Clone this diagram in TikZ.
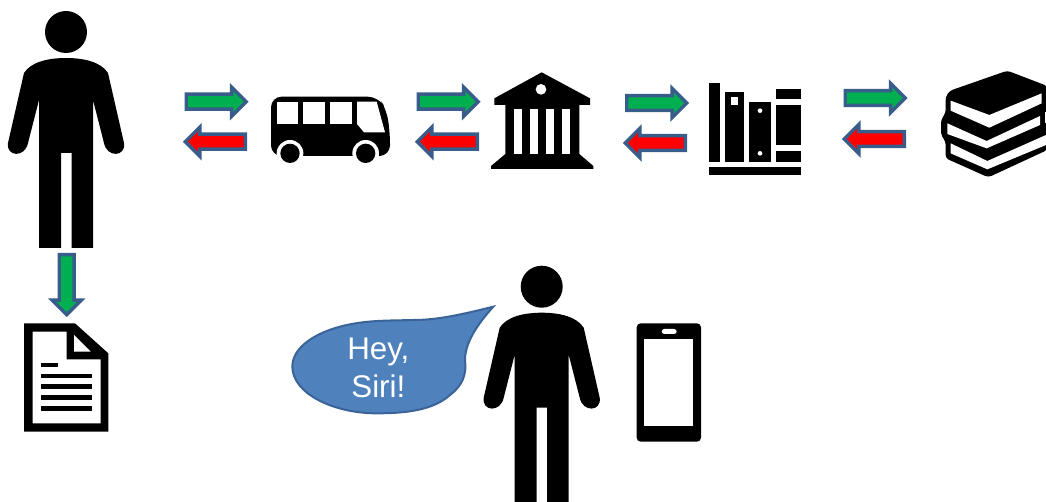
\documentclass[tikz,border=0pt]{standalone}
\usepackage{fontspec}
\setmainfont{Liberation Sans}
\usetikzlibrary{shapes.arrows}
\definecolor{arrline}{HTML}{385D8A}
\definecolor{arrgreen}{HTML}{00B050}
\definecolor{arrred}{HTML}{FF0000}
\definecolor{bubfill}{HTML}{4F81BD}
\definecolor{bubline}{HTML}{3A6397}

\begin{document}
\begin{tikzpicture}[
  x=0.75pt, y=-0.75pt,
  flow/.style={draw=arrline, line width=2.6pt, single arrow, single arrow head extend=5.4pt, minimum height=45pt, minimum width=19.5pt, inner sep=4.3pt, text height=0pt, text depth=0pt, outer sep=0pt},
  go/.style={flow, fill=arrgreen},
  back/.style={flow, fill=arrred, shape border rotate=180},
  zoomed/.style={x=0.25pt, y=-0.25pt},
  person/.pic={
    \fill (0,0) circle (21);
    \fill (0,26) .. controls (18,26) and (35,30) .. (42,41) -- (58,111)
      .. controls (60,125) and (41,126) .. (38,111) -- (27,68) -- (27,216) -- (5.5,216) -- (5.5,121) -- (-5,121) -- (-5,216) -- (-27,216) -- (-27,68) -- (-38,111)
      .. controls (-41,126) and (-60,125) .. (-58,111) -- (-42,41) .. controls (-35,30) and (-18,26) .. (0,26) -- cycle;
  }]
\clip (0,0) rectangle (1046,502);
\pic (walker) at (66,32) {person};
\pic (speaker) at (541.7,286.7) {person};

\node[go] (gobus) at (212.5,101.7) {};
\node[back] (backbus) at (219,141.7) {};
\node[go] (golib) at (444.5,101.7) {};
\node[back] (backlib) at (451,141.7) {};
\node[go] (goshelf) at (653,103) {};
\node[back] (backshelf) at (659,143) {};
\node[go] (gobook) at (871.5,98) {};
\node[back] (backbook) at (878,139) {};
\node[go, shape border rotate=270] (down) at (66.7,281) {};

\begin{scope}[zoomed]
\fill[rounded corners=8pt] (813,468) -- (813,290) -- (1135,290) -- (1160,330) -- (1170,400) -- (1170,468) -- cycle;
\fill[white] (830,307) rectangle (893,372);
\fill[white] (910,307) rectangle (974,372);
\fill[white] (990,307) rectangle (1056,372);
\fill[white] (1071,305) -- (1130,305) -- (1155,397) -- (1092,397) -- (1071,372) -- cycle;
\foreach \wx in {870,1097} {
  \fill[white] (\wx,460) circle (40);
  \fill (\wx,460) circle (29);
}
\end{scope}

\begin{scope}[shift={(480,60)}, zoomed]
\fill (185,37) -- (330,115) -- (330,135) -- (298,135) -- (298,282) -- (340,318) -- (340,327) -- (33,327) -- (33,318) -- (76,282) -- (76,135) -- (43,135) -- (43,115) -- cycle;
\fill[white] (183,88) circle (16);
\foreach \cx in {103,150,198,247}
  \fill[white] (\cx,147) rectangle (\cx+24,282);
\end{scope}

\begin{scope}[shift={(700,70)}, zoomed]
\fill (27,40) rectangle (60,275);
\fill (75,65) rectangle (131,275);
\fill[white] (92,82) rectangle (115,105);
\fill (148,97) rectangle (212,275);
\fill[white] (180,122) circle (7);
\fill[white] (180,250) circle (7);
\fill (228,57) rectangle (302,88);
\fill (228,105) rectangle (302,225);
\fill (228,242) rectangle (302,275);
\fill (27,292) rectangle (302,315);
\end{scope}

\begin{scope}[shift={(930,60)}, zoomed]
\fill[rounded corners=2.5pt] (232,32) -- (352,78) -- (352,270) -- (175,352) -- (47,295) -- (47,245) -- (33,225) -- (33,180) -- (47,158) -- (47,110) -- (60,92) -- cycle;
\fill[white] (62,122) -- (178,165) -- (335,100) -- (335,130) -- (178,203) -- (62,152) -- cycle;
\fill[white] (52,190) -- (170,243) -- (330,168) -- (330,195) -- (170,265) -- (52,222) -- cycle;
\fill[white] (62,250) -- (172,303) -- (348,225) -- (348,255) -- (172,328) -- (62,280) -- cycle;
\fill[white] (344,155) rectangle (352,190);
\end{scope}

\begin{scope}[shift={(0,250)}, zoomed]
\fill[even odd rule] (72,220) -- (225,220) -- (325,310) -- (325,545) -- (72,545) -- cycle (98,245) -- (200,245) -- (200,328) -- (302,328) -- (302,520) -- (98,520) -- cycle;
\fill[white] (222,255) -- (272,305) -- (222,305) -- cycle;
\fill (122,338) rectangle (175,352);
\foreach \ly in {378,410,443,475}
  \fill (122,\ly-7) rectangle (275,\ly+7);
\end{scope}

\begin{scope}[shift={(280,260)}, zoomed]
\draw[bubline, fill=bubfill, line width=1.5pt] (640,140) .. controls (540,165) and (470,180) .. (400,180) .. controls (330,182) and (270,180) .. (200,195) .. controls (110,215) and (37,260) .. (37,320) .. controls (37,400) and (160,460) .. (290,460) .. controls (380,460) and (460,450) .. (510,405) .. controls (550,375) and (560,340) .. (555,300) .. controls (555,250) and (590,195) .. (640,140) -- cycle;
\fill[rounded corners=3pt] (1070,190) rectangle (1263,545);
\fill[white] (1093,238) rectangle (1240,497);
\fill[white, rounded corners=2pt] (1145,207) rectangle (1190,222);
\node[text=white, align=center, font=\fontsize{23.5}{29}\selectfont] (hey) at (295,324) {Hey,\\Siri!};
\end{scope}
\end{tikzpicture}
\end{document}
